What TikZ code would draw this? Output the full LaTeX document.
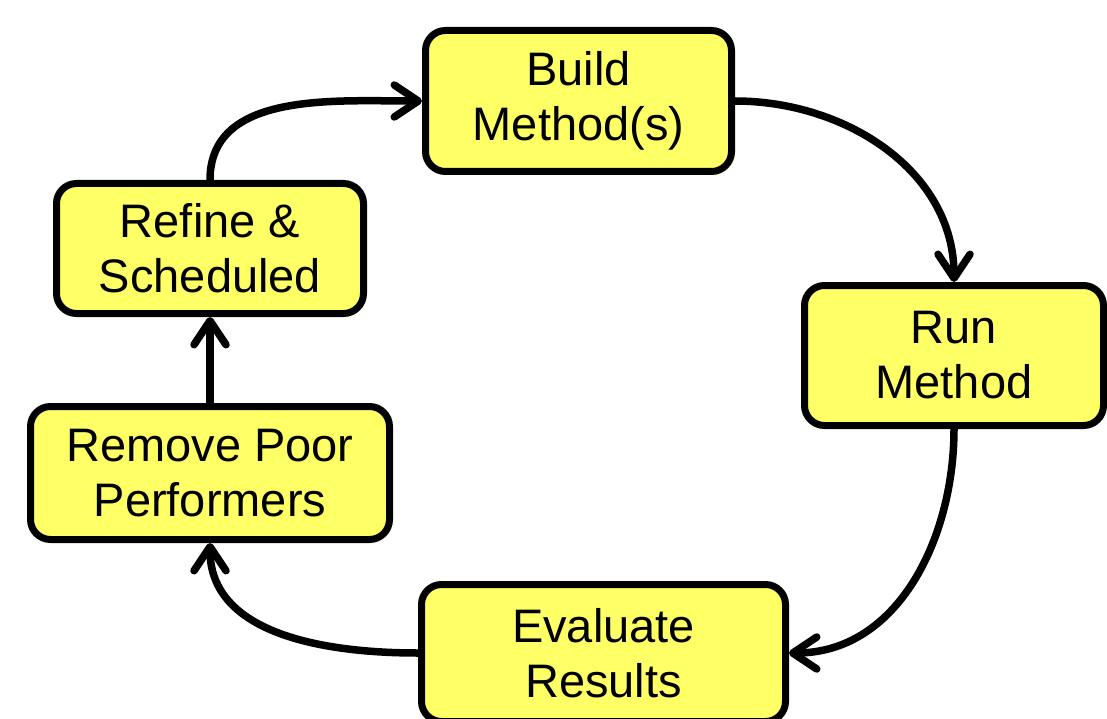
\documentclass[tikz,border=0pt]{standalone}
\usepackage{fontspec}
\setmainfont{Liberation Sans}
\usetikzlibrary{positioning}
\usetikzlibrary{arrows.meta}
\definecolor{boxYellow}{RGB}{255,255,102}
\tikzset{
    objRoundRectangle/.style={rectangle, rounded corners=20pt, text centered, align=center, draw=black, fill=boxYellow, line width=7pt, font=\fontsize{47}{55}\selectfont},
    arrow/.style={line width=7.5pt, -{Straight Barb[length=24pt, width=32pt, round]}}
}
\begin{document}
\begin{tikzpicture}[x=1pt, y=-1pt]
    \useasboundingbox (0,0) rectangle (1107,719);

    \node (001) [objRoundRectangle, minimum width=306pt, minimum height=141pt] at (578.5,101) {Build\\Method(s)};
    \node (002) [objRoundRectangle, minimum width=299pt, minimum height=140pt] at (954,355.5) {Run\\Method};
    \node (003) [objRoundRectangle, minimum width=364pt, minimum height=137pt] at (603.5,653) {Evaluate\\Results};
    \node (004) [objRoundRectangle, minimum width=359pt, minimum height=133pt] at (210,473) {Remove Poor\\Performers};
    \node (005) [objRoundRectangle, minimum width=307pt, minimum height=130pt] at (210,248.5) {Refine \&\\Scheduled};

    \draw [arrow] (001.east) to[out=0, in=90] (002.north);
    \draw [arrow] (002.south) to[out=-90, in=0] (003.east);
    \draw [arrow] (003.west) to[out=180, in=-90] (004.south);
    \draw [arrow] (004) -- (005);
    \draw [arrow] (005.north) to[out=90, in=180] (001.west);

\end{tikzpicture}
\end{document}
